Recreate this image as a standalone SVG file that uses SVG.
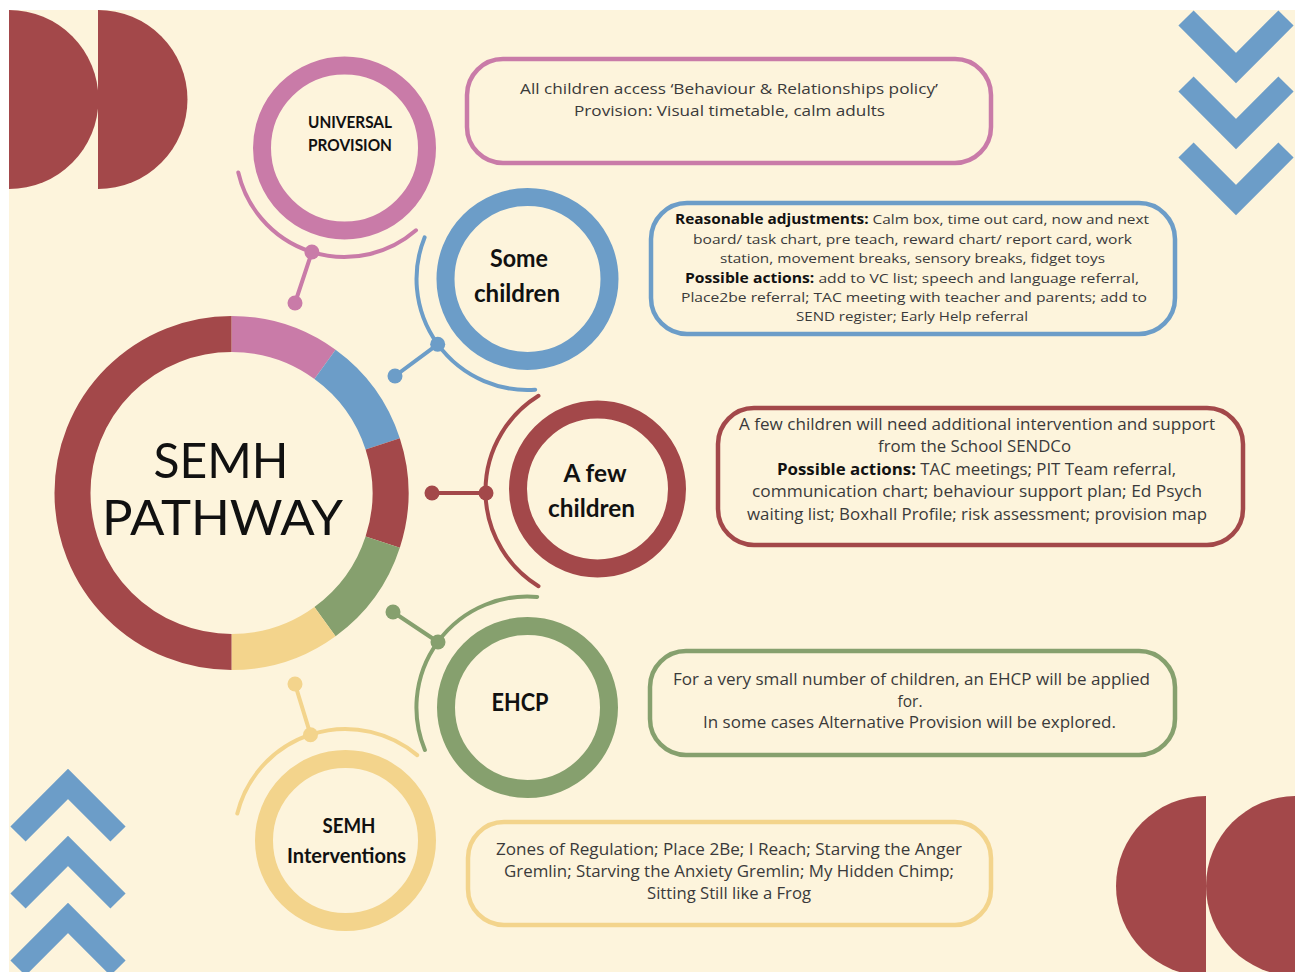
<svg xmlns="http://www.w3.org/2000/svg" width="1295" height="972" viewBox="0 0 1295 972">
<style>
.bg{fill:#FDF4DC}
.dred{fill:#A3484A}
.chev{fill:none;stroke:#6C9DC8;stroke-width:21.5;stroke-linejoin:miter;stroke-linecap:butt}
.seg{fill:none;stroke-width:36;stroke-linecap:butt}
.ring{fill:none;stroke-width:18}
.arc{fill:none;stroke-width:4;stroke-linecap:round}
.box{fill:none;stroke-width:4.5}
.lbl{font-family:"Lato","Liberation Sans",sans-serif;font-weight:700;fill:#111;text-anchor:middle}
.big{font-family:"Lato","Liberation Sans",sans-serif;font-weight:400;fill:#111;text-anchor:middle;font-size:49px}
.t{font-family:"Open Sans","Liberation Sans",sans-serif;fill:#3a3a3a;text-anchor:middle}
.t tspan.b{font-weight:700;fill:#111}
.pink{stroke:#C97BA8}.pinkf{fill:#C97BA8}
.blue{stroke:#6C9DC8}.bluef{fill:#6C9DC8}
.red{stroke:#A3484A}.redf{fill:#A3484A}
.green{stroke:#86A06E}.greenf{fill:#86A06E}
.yellow{stroke:#F3D48C}.yellowf{fill:#F3D48C}
</style>
<rect width="1295" height="972" fill="#ffffff"/>
<rect class="bg" x="9" y="10" width="1286" height="962"/>

<g id="decor">
  <path class="dred" d="M9,10 A89.5,89.5 0 0 1 9,189 Z"/>
  <path class="dred" d="M98,10 A89.5,89.5 0 0 1 98,189 Z"/>
  <path class="dred" d="M1206,796 A90,90 0 0 0 1206,976 Z"/>
  <path class="dred" d="M1296,796 A90,90 0 0 0 1296,976 Z"/>
  <polyline class="chev" points="1186,18 1236,68 1286,18"/>
  <polyline class="chev" points="1186,84 1236,134 1286,84"/>
  <polyline class="chev" points="1186,150 1236,200 1286,150"/>
  <polyline class="chev" points="18,834 68,784 118,834"/>
  <polyline class="chev" points="18,901 68,851 118,901"/>
  <polyline class="chev" points="18,968 68,918 118,968"/>
</g>

<g id="semh-pathway">
  <path class="seg pink" d="M231.5,334 A159,159 0 0 1 325,364.4"/>
  <path class="seg blue" d="M325,364.4 A159,159 0 0 1 382.7,443.9"/>
  <path class="seg red" d="M382.7,443.9 A159,159 0 0 1 382.7,542.1"/>
  <path class="seg green" d="M382.7,542.1 A159,159 0 0 1 325,621.6"/>
  <path class="seg yellow" d="M325,621.6 A159,159 0 0 1 231.5,652"/>
  <path class="seg red" d="M231.5,652 A159,159 0 0 1 231.5,334"/>
  <text class="big" x="221" y="478" textLength="135" lengthAdjust="spacingAndGlyphs">SEMH</text>
  <text class="big" x="222.5" y="535" textLength="241" lengthAdjust="spacingAndGlyphs">PATHWAY</text>
</g>

<g id="universal-provision">
  <circle class="ring pink" cx="344.5" cy="148" r="82.5"/>
  <path class="arc pink" d="M416,230.3 A109,109 0 0 1 238.3,172.5"/>
  <text class="lbl" font-size="17" x="350" y="128" textLength="84" lengthAdjust="spacingAndGlyphs">UNIVERSAL</text>
  <text class="lbl" font-size="17" x="350" y="151" textLength="84" lengthAdjust="spacingAndGlyphs">PROVISION</text>
</g>

<g id="some-children">
  <circle class="ring blue" cx="527.5" cy="279" r="82"/>
  <path class="arc blue" d="M535.2,389.7 A111,111 0 0 1 424.6,237.4"/>
  <text class="lbl" font-size="25" x="519" y="267" textLength="58" lengthAdjust="spacingAndGlyphs">Some</text>
  <text class="lbl" font-size="25" x="517" y="302" textLength="86" lengthAdjust="spacingAndGlyphs">children</text>
</g>

<g id="a-few-children">
  <circle class="ring red" cx="597.5" cy="489" r="79.5"/>
  <path class="arc red" d="M538.5,586.2 A112,112 0 0 1 538.5,395.8"/>
  <text class="lbl" font-size="25" x="595" y="482" textLength="63" lengthAdjust="spacingAndGlyphs">A few</text>
  <text class="lbl" font-size="25" x="591.5" y="517" textLength="87" lengthAdjust="spacingAndGlyphs">children</text>
</g>

<g id="ehcp">
  <circle class="ring green" cx="527.5" cy="707.5" r="81.5"/>
  <path class="arc green" d="M424.9,750 A111,111 0 0 1 537.2,596.9"/>
  <text class="lbl" font-size="25" x="520" y="711" textLength="57" lengthAdjust="spacingAndGlyphs">EHCP</text>
</g>

<g id="semh-interventions">
  <circle class="ring yellow" cx="345.5" cy="840.5" r="81.5"/>
  <path class="arc yellow" d="M237.3,813.5 A111.5,111.5 0 0 1 417.2,755.1"/>
  <text class="lbl" font-size="21" x="349" y="833" textLength="53" lengthAdjust="spacingAndGlyphs">SEMH</text>
  <text class="lbl" font-size="21" x="346.5" y="863" textLength="119" lengthAdjust="spacingAndGlyphs">Interventions</text>
</g>

<g id="connectors">
  <line class="arc pink" x1="311.9" y1="252" x2="295" y2="303"/>
  <circle class="pinkf" cx="311.9" cy="252" r="7.5"/>
  <circle class="pinkf" cx="295" cy="303" r="7.5"/>
  <line class="arc blue" x1="437.7" y1="344.3" x2="395" y2="376"/>
  <circle class="bluef" cx="437.7" cy="344.3" r="7.5"/>
  <circle class="bluef" cx="395" cy="376" r="7.5"/>
  <line class="arc red" x1="432" y1="493" x2="486" y2="493"/>
  <circle class="redf" cx="432" cy="493" r="7.5"/>
  <circle class="redf" cx="486" cy="493" r="7.5"/>
  <line class="arc green" x1="438" y1="642" x2="393" y2="612"/>
  <circle class="greenf" cx="438" cy="642" r="7.5"/>
  <circle class="greenf" cx="393" cy="612" r="7.5"/>
  <line class="arc yellow" x1="310.5" y1="734.7" x2="295" y2="684"/>
  <circle class="yellowf" cx="310.5" cy="734.7" r="7.5"/>
  <circle class="yellowf" cx="295" cy="684" r="7.5"/>
</g>

<g id="box-universal">
  <rect class="box pink" x="467" y="59" width="524" height="104" rx="36"/>
  <text class="t" font-size="15" x="729" y="94" textLength="418" lengthAdjust="spacingAndGlyphs">All children access ‘Behaviour &amp; Relationships policy’</text>
  <text class="t" font-size="15" x="729.5" y="116" textLength="311" lengthAdjust="spacingAndGlyphs">Provision: Visual timetable, calm adults</text>
</g>

<g id="box-some">
  <rect class="box blue" x="651" y="203" width="524" height="131" rx="36"/>
  <text class="t" font-size="13.5" x="912" y="224" textLength="474" lengthAdjust="spacingAndGlyphs"><tspan class="b">Reasonable adjustments:</tspan> Calm box, time out card, now and next</text>
  <text class="t" font-size="13.5" x="912.5" y="244" textLength="439" lengthAdjust="spacingAndGlyphs">board/ task chart,  pre teach, reward chart/ report card, work</text>
  <text class="t" font-size="13.5" x="912.5" y="263" textLength="385" lengthAdjust="spacingAndGlyphs">station, movement breaks, sensory breaks, fidget toys</text>
  <text class="t" font-size="13.5" x="912" y="283" textLength="454" lengthAdjust="spacingAndGlyphs"><tspan class="b">Possible actions:</tspan> add to VC list; speech and language referral,</text>
  <text class="t" font-size="13.5" x="914" y="302" textLength="466" lengthAdjust="spacingAndGlyphs">Place2be referral; TAC meeting with teacher and parents; add to</text>
  <text class="t" font-size="13.5" x="912" y="321" textLength="232" lengthAdjust="spacingAndGlyphs">SEND register; Early Help referral</text>
</g>

<g id="box-few">
  <rect class="box red" x="718" y="408" width="525" height="137" rx="36"/>
  <text class="t" font-size="15.5" x="977" y="430" textLength="476" lengthAdjust="spacingAndGlyphs">A few children will need additional intervention and support</text>
  <text class="t" font-size="15.5" x="974.5" y="452" textLength="193" lengthAdjust="spacingAndGlyphs">from the School SENDCo</text>
  <text class="t" font-size="15.5" x="976.5" y="475" textLength="399" lengthAdjust="spacingAndGlyphs"><tspan class="b">Possible actions:</tspan> TAC meetings; PIT Team referral,</text>
  <text class="t" font-size="15.5" x="977" y="497" textLength="450" lengthAdjust="spacingAndGlyphs">communication chart; behaviour support plan; Ed Psych</text>
  <text class="t" font-size="15.5" x="977" y="520" textLength="460" lengthAdjust="spacingAndGlyphs">waiting list; Boxhall Profile; risk assessment; provision map</text>
</g>

<g id="box-ehcp">
  <rect class="box green" x="650" y="651" width="525" height="104" rx="36"/>
  <text class="t" font-size="15.5" x="911.5" y="685" textLength="477" lengthAdjust="spacingAndGlyphs">For a very small number of children, an EHCP will be applied</text>
  <text class="t" font-size="15.5" x="910" y="707">for.</text>
  <text class="t" font-size="15.5" x="909.5" y="728" textLength="413" lengthAdjust="spacingAndGlyphs">In some cases Alternative Provision will be explored.</text>
</g>

<g id="box-interventions">
  <rect class="box yellow" x="468" y="822" width="523" height="103" rx="36"/>
  <text class="t" font-size="15.5" x="729" y="855" textLength="466" lengthAdjust="spacingAndGlyphs">Zones of Regulation; Place 2Be; I Reach; Starving the Anger</text>
  <text class="t" font-size="15.5" x="729" y="877" textLength="450" lengthAdjust="spacingAndGlyphs">Gremlin; Starving the Anxiety Gremlin; My Hidden Chimp;</text>
  <text class="t" font-size="15.5" x="729" y="899" textLength="164" lengthAdjust="spacingAndGlyphs">Sitting Still like a Frog</text>
</g>
</svg>
